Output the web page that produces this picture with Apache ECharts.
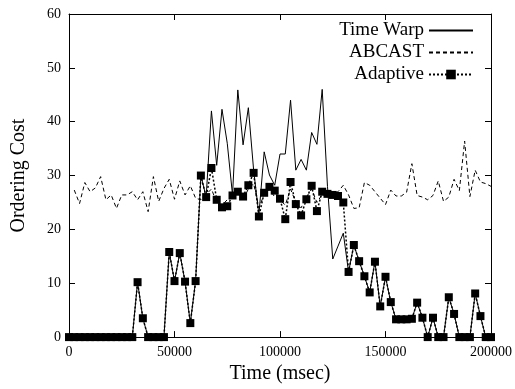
<!DOCTYPE html>
<html>
<head>
<meta charset="utf-8">
<script src="https://cdn.jsdelivr.net/npm/echarts@6/dist/echarts.min.js"></script>
<style>html,body{margin:0;padding:0;background:#fff}#c{width:515px;height:389px}</style>
</head>
<body>
<div id="c"></div>
<script>
var times = [0,2500,5000,7500,10000,12500,15000,17500,20000,22500,
  25000,27500,30000,32500,35000,37500,40000,42500,45000,47500,
  50000,52500,55000,57500,60000,62500,65000,67500,70000,72500,
  75000,77500,80000,82500,85000,87500,90000,92500,95000,97500,
  100000,102500,105000,107500,110000,112500,115000,117500,120000,122500,
  125000,127500,130000,132500,135000,137500,140000,142500,145000,147500,
  150000,152500,155000,157500,160000,162500,165000,167500,170000,172500,
  175000,177500,180000,182500,185000,187500,190000,192500,195000,197500,200000];

var timeWarp = [0,0,0,0,0,0,0,0,0,0,
  0,0,0,10.2,3.5,0,0,0,0,15.8,
  10.4,15.6,10.3,2.6,10.4,30.0,26.0,42.0,31.9,42.3,
  36.0,26.4,45.9,35.7,42.6,31.0,22.7,34.4,30.1,28.2,
  34.0,34.0,44.0,31.0,33.0,31.0,38.0,35.8,46.0,28.0,
  14.5,16.9,19.3,12.1,17.1,14.1,11.3,8.3,14.0,5.7,
  11.2,6.5,3.3,3.3,3.3,3.4,6.4,3.6,0,3.6,
  0,0,7.4,4.3,0,0,0,8.1,3.9,0,0];

var abcast = ['-',27.3,24.8,28.7,27.0,27.7,29.8,25.5,26.4,23.9,
  26.4,26.4,27.0,25.5,27.0,23.3,29.8,25.2,27.6,29.3,
  25.6,29.0,26.4,28.1,25.8,25.5,26.5,27.5,25.0,24.5,
  25.5,26.0,27.0,25.5,27.5,28.5,24.0,26.5,27.5,26.0,
  25.5,24.5,27.5,25.0,24.0,26.0,27.5,25.0,26.5,26.0,
  26.5,27.0,28.2,26.4,23.9,24.0,28.7,28.2,27.0,25.8,
  24.6,27.3,26.2,26.2,26.9,32.2,26.3,26.0,25.5,26.3,
  29.0,25.2,26.0,29.3,27.2,36.4,26.1,31.0,28.8,28.5,28.0];

var adaptive = [0,0,0,0,0,0,0,0,0,0,
  0,0,0,10.2,3.5,0,0,0,0,15.8,
  10.4,15.6,10.3,2.6,10.4,30.0,26.0,31.4,25.5,24.1,
  24.3,26.3,27.0,26.1,28.2,30.5,22.4,26.8,27.9,27.2,
  25.7,21.9,28.8,24.7,22.6,25.6,28.1,23.4,27.0,26.6,
  26.4,26.2,25.0,12.1,17.1,14.1,11.3,8.3,14.0,5.7,
  11.2,6.5,3.3,3.3,3.3,3.4,6.4,3.6,0,3.6,
  0,0,7.4,4.3,0,0,0,8.1,3.9,0,0];

var seriesNames = ['Time Warp','ABCAST','Adaptive'];
var xTitle = 'Time (msec)';
var yTitle = 'Ordering Cost';

function pairs(v){ return times.map(function(t,i){ return [t, v[i]]; }); }

var FONT = 'Liberation Serif';
var chart = echarts.init(document.getElementById('c'), null, {renderer:'canvas'});
var axisBase = {
  axisLine:{show:true, onZero:false, lineStyle:{color:'#000', width:1}},
  axisTick:{show:true, inside:true, length:6, lineStyle:{color:'#000'}},
  splitLine:{show:false}
};
function legendAt(name, top, hideSymbol){
  var l = {
    data:[name], right:41, top:top, orient:'vertical', align:'right', padding:0,
    itemWidth:44, itemHeight:12,
    textStyle:{fontFamily:FONT, fontSize:19, color:'#000', padding:[0,0,0,0]},
    selectedMode:false
  };
  if (hideSymbol) l.itemStyle = {opacity:0};
  return l;
}
function plain(v){ return String(v); }
chart.setOption({
  animation:false,
  backgroundColor:'#fff',
  grid:{left:69, right:22, top:14, bottom:49},
  legend:[legendAt(seriesNames[0],21,true), legendAt(seriesNames[1],43,true), legendAt(seriesNames[2],65,false)],
  xAxis:[
    Object.assign({type:'value', min:0, max:200000, interval:50000, position:'bottom',
      name:xTitle, nameLocation:'middle', nameGap:16,
      nameTextStyle:{fontFamily:FONT, fontSize:20, color:'#000'},
      axisLabel:{fontFamily:FONT, fontSize:14, color:'#000', margin:8, formatter:plain}}, axisBase),
    Object.assign({type:'value', min:0, max:200000, interval:50000, position:'top',
      axisLabel:{show:false}}, axisBase)
  ],
  yAxis:[
    Object.assign({type:'value', min:0, max:60, interval:10, position:'left',
      name:yTitle, nameLocation:'middle', nameGap:40, nameRotate:90,
      nameTextStyle:{fontFamily:FONT, fontSize:20, color:'#000'},
      axisLabel:{fontFamily:FONT, fontSize:14, color:'#000', margin:8, formatter:plain}}, axisBase),
    Object.assign({type:'value', min:0, max:60, interval:10, position:'right',
      axisLabel:{show:false}}, axisBase)
  ],
  series:[
    {name:seriesNames[1], type:'line', data:pairs(abcast), symbol:'none', z:2,
      lineStyle:{color:'#000', width:1, type:[4,3]}, itemStyle:{color:'#000'}},
    {name:seriesNames[2], type:'line', data:pairs(adaptive), symbol:'rect', symbolSize:8, z:3,
      lineStyle:{color:'#000', width:1.5, type:[2,2]}, itemStyle:{color:'#000'}},
    {name:seriesNames[0], type:'line', data:pairs(timeWarp), symbol:'none', z:4,
      lineStyle:{color:'#000', width:1, type:'solid'}, itemStyle:{color:'#000'}}
  ]
});
</script>
</body>
</html>
